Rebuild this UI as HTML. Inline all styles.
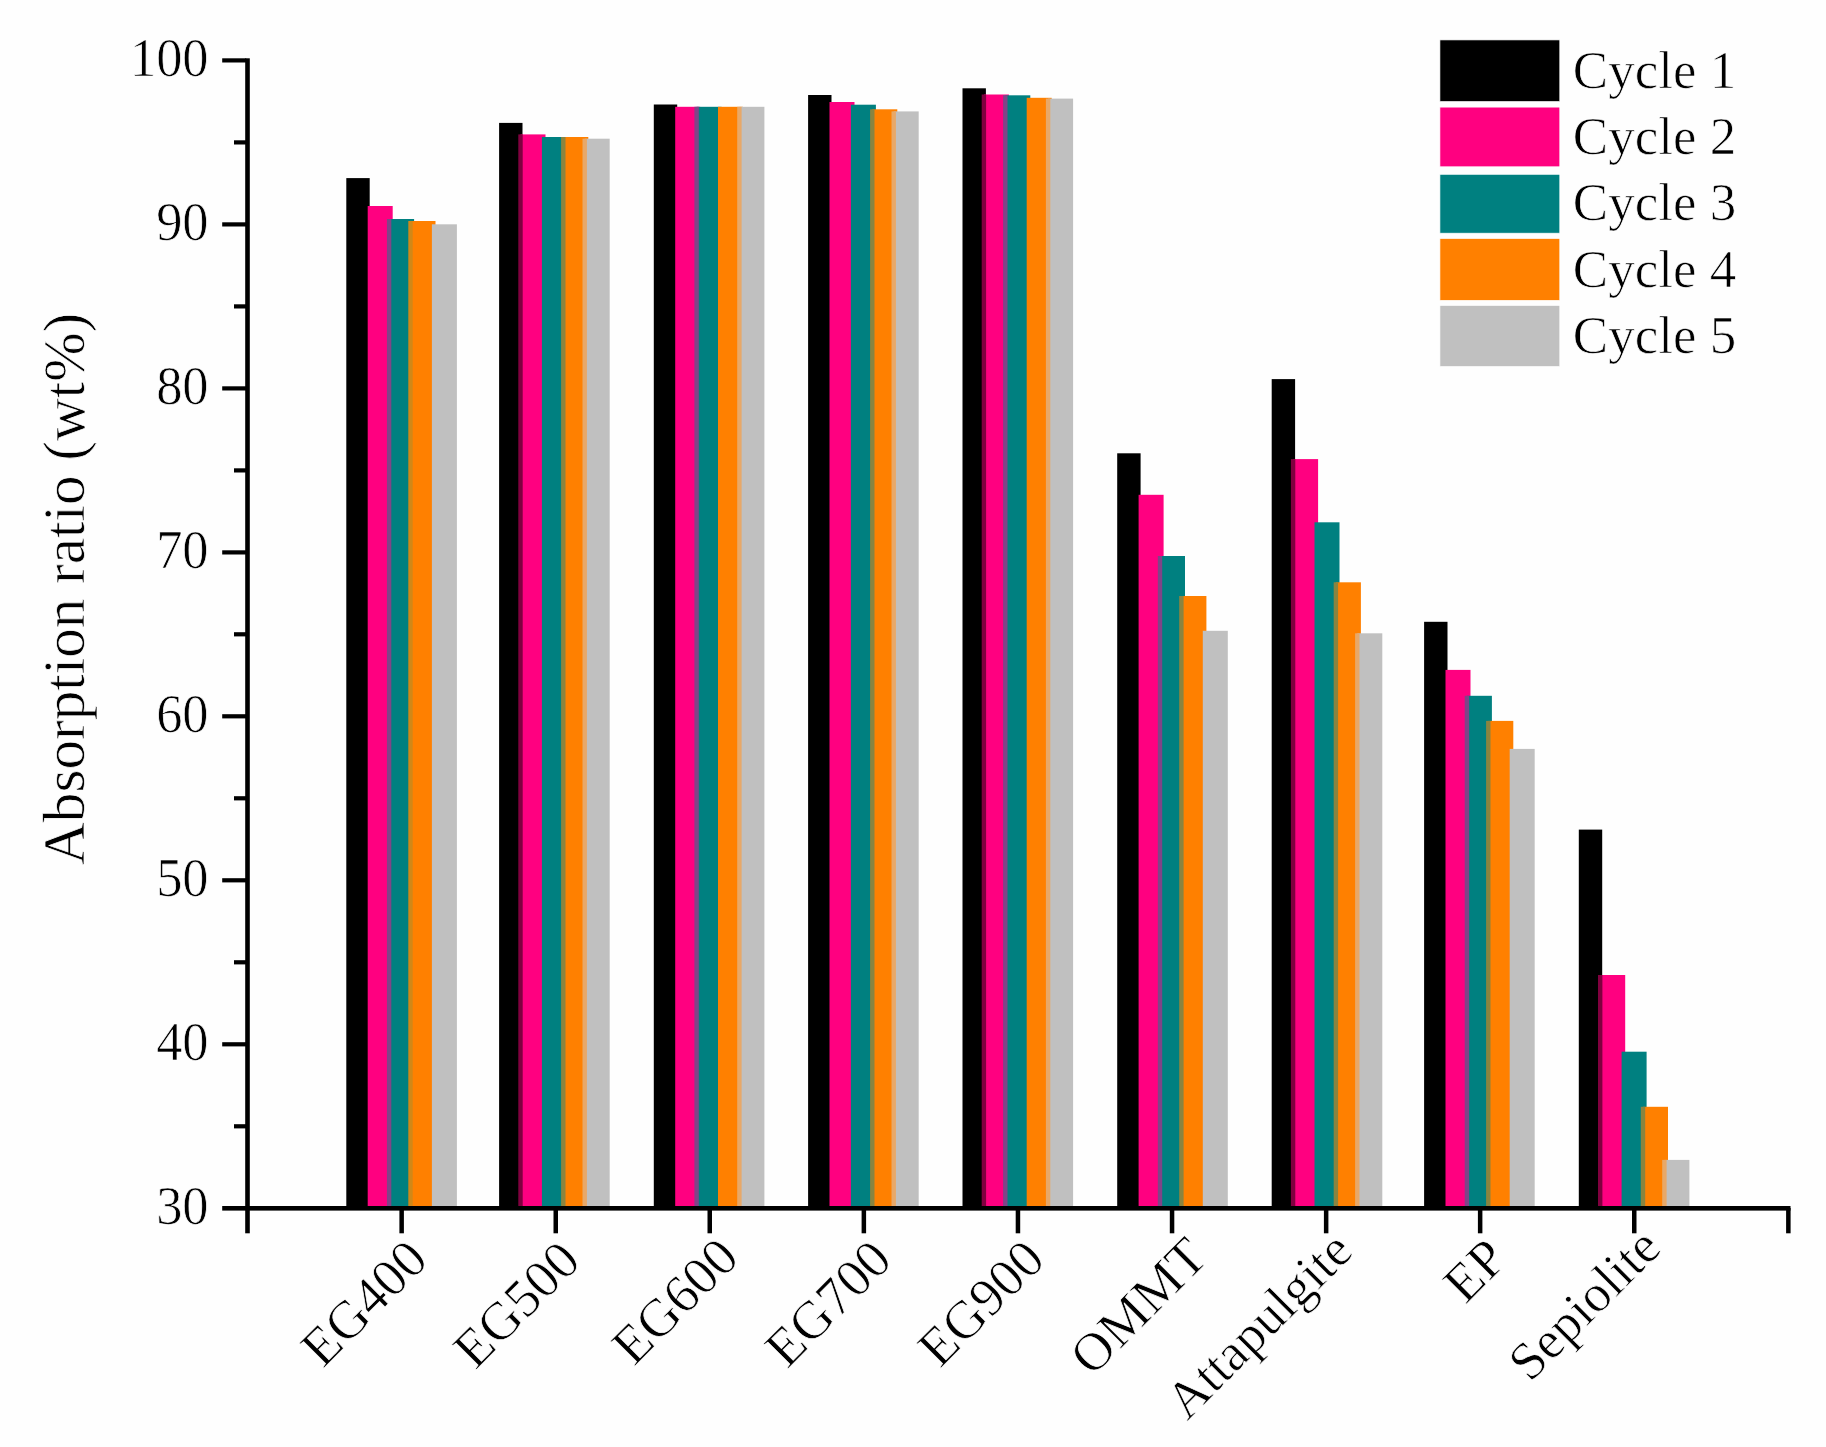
<!DOCTYPE html>
<html lang="en"><head><meta charset="utf-8"><title>Absorption ratio</title>
<style>html,body{margin:0;padding:0;background:#fefefe}svg{display:block}</style></head>
<body>
<svg width="1826" height="1447" viewBox="0 0 1826 1447">
<rect width="1826" height="1447" fill="#fefefe"/>
<g>
<rect x="346.3" y="178.1" width="23.4" height="1028.9" fill="#000000"/>
<rect x="367.7" y="206.0" width="25.0" height="1001.0" fill="#FF0080"/>
<rect x="389.1" y="219.0" width="25.0" height="988.0" fill="#008080"/>
<rect x="410.5" y="221.0" width="25.0" height="986.0" fill="#FF8000"/>
<rect x="431.9" y="224.3" width="25.0" height="982.7" fill="#C0C0C0"/>
<rect x="499.1" y="122.9" width="23.4" height="1084.1" fill="#000000"/>
<rect x="520.5" y="134.4" width="25.0" height="1072.6" fill="#FF0080"/>
<rect x="541.9" y="137.0" width="25.0" height="1070.0" fill="#008080"/>
<rect x="563.3" y="137.0" width="25.0" height="1070.0" fill="#FF8000"/>
<rect x="584.7" y="138.7" width="25.0" height="1068.3" fill="#C0C0C0"/>
<rect x="653.8" y="104.5" width="23.4" height="1102.5" fill="#000000"/>
<rect x="675.2" y="106.8" width="25.0" height="1100.2" fill="#FF0080"/>
<rect x="696.6" y="106.8" width="25.0" height="1100.2" fill="#008080"/>
<rect x="718.0" y="106.8" width="25.0" height="1100.2" fill="#FF8000"/>
<rect x="739.4" y="106.8" width="25.0" height="1100.2" fill="#C0C0C0"/>
<rect x="808.1" y="95.0" width="23.4" height="1112.0" fill="#000000"/>
<rect x="829.5" y="102.0" width="25.0" height="1105.0" fill="#FF0080"/>
<rect x="850.9" y="104.7" width="25.0" height="1102.3" fill="#008080"/>
<rect x="872.3" y="109.3" width="25.0" height="1097.7" fill="#FF8000"/>
<rect x="893.7" y="111.4" width="25.0" height="1095.6" fill="#C0C0C0"/>
<rect x="962.5" y="88.3" width="23.4" height="1118.7" fill="#000000"/>
<rect x="983.9" y="94.5" width="25.0" height="1112.5" fill="#FF0080"/>
<rect x="1005.3" y="95.3" width="25.0" height="1111.7" fill="#008080"/>
<rect x="1026.7" y="97.8" width="25.0" height="1109.2" fill="#FF8000"/>
<rect x="1048.1" y="98.6" width="25.0" height="1108.4" fill="#C0C0C0"/>
<rect x="1117.2" y="453.3" width="23.4" height="753.7" fill="#000000"/>
<rect x="1138.6" y="494.8" width="25.0" height="712.2" fill="#FF0080"/>
<rect x="1160.0" y="556.0" width="25.0" height="651.0" fill="#008080"/>
<rect x="1181.4" y="596.0" width="25.0" height="611.0" fill="#FF8000"/>
<rect x="1202.8" y="630.8" width="25.0" height="576.2" fill="#C0C0C0"/>
<rect x="1271.7" y="379.1" width="23.4" height="827.9" fill="#000000"/>
<rect x="1293.1" y="459.1" width="25.0" height="747.9" fill="#FF0080"/>
<rect x="1314.5" y="522.3" width="25.0" height="684.7" fill="#008080"/>
<rect x="1335.9" y="582.3" width="25.0" height="624.7" fill="#FF8000"/>
<rect x="1357.3" y="633.3" width="25.0" height="573.7" fill="#C0C0C0"/>
<rect x="1424.1" y="621.8" width="23.4" height="585.2" fill="#000000"/>
<rect x="1445.5" y="669.9" width="25.0" height="537.1" fill="#FF0080"/>
<rect x="1466.9" y="695.8" width="25.0" height="511.2" fill="#008080"/>
<rect x="1488.3" y="720.9" width="25.0" height="486.1" fill="#FF8000"/>
<rect x="1509.7" y="748.9" width="25.0" height="458.1" fill="#C0C0C0"/>
<rect x="1578.8" y="829.6" width="23.4" height="377.4" fill="#000000"/>
<rect x="1600.2" y="975.0" width="25.0" height="232.0" fill="#FF0080"/>
<rect x="1621.6" y="1051.7" width="25.0" height="155.3" fill="#008080"/>
<rect x="1643.0" y="1106.8" width="25.0" height="100.2" fill="#FF8000"/>
<rect x="1664.4" y="1159.9" width="25.0" height="47.1" fill="#C0C0C0"/>
<rect x="386.9" y="219.0" width="4.4" height="988.0" fill="#804488"/>
<rect x="408.3" y="221.0" width="4.4" height="986.0" fill="#d08818"/>
<rect x="518.3" y="134.4" width="4.4" height="1072.6" fill="#80003f"/>
<rect x="561.1" y="137.0" width="4.4" height="1070.0" fill="#8a8440"/>
<rect x="582.5" y="138.7" width="4.4" height="1068.3" fill="#e8a868"/>
<rect x="694.4" y="106.8" width="4.4" height="1100.2" fill="#804488"/>
<rect x="737.2" y="106.8" width="4.4" height="1100.2" fill="#e8a868"/>
<rect x="870.1" y="109.3" width="4.4" height="1097.7" fill="#8a8440"/>
<rect x="891.5" y="111.4" width="4.4" height="1095.6" fill="#e8a868"/>
<rect x="981.7" y="94.5" width="4.4" height="1112.5" fill="#80003f"/>
<rect x="1003.1" y="95.3" width="4.4" height="1111.7" fill="#804488"/>
<rect x="1045.9" y="98.6" width="4.4" height="1108.4" fill="#e8a868"/>
<rect x="1157.8" y="556.0" width="4.4" height="651.0" fill="#804488"/>
<rect x="1179.2" y="596.0" width="4.4" height="611.0" fill="#8a8440"/>
<rect x="1290.9" y="459.1" width="4.4" height="747.9" fill="#80003f"/>
<rect x="1333.7" y="582.3" width="4.4" height="624.7" fill="#8a8440"/>
<rect x="1355.1" y="633.3" width="4.4" height="573.7" fill="#e8a868"/>
<rect x="1464.7" y="695.8" width="4.4" height="511.2" fill="#804488"/>
<rect x="1486.1" y="720.9" width="4.4" height="486.1" fill="#8a8440"/>
<rect x="1598.0" y="975.0" width="4.4" height="232.0" fill="#80003f"/>
<rect x="1640.8" y="1106.8" width="4.4" height="100.2" fill="#8a8440"/>
<rect x="1662.2" y="1159.9" width="4.4" height="47.1" fill="#e8a868"/>
</g>
<g fill="#000">
<rect x="245.2" y="58.3" width="4.6" height="1175"/>
<rect x="222.2" y="1206" width="1568.3" height="4.6"/>
<rect x="222.2" y="58.3" width="24" height="4.2"/>
<rect x="234" y="140.3" width="12" height="4.2"/>
<rect x="222.2" y="222.3" width="24" height="4.2"/>
<rect x="234" y="304.3" width="12" height="4.2"/>
<rect x="222.2" y="386.3" width="24" height="4.2"/>
<rect x="234" y="468.3" width="12" height="4.2"/>
<rect x="222.2" y="550.3" width="24" height="4.2"/>
<rect x="234" y="632.2" width="12" height="4.2"/>
<rect x="222.2" y="714.2" width="24" height="4.2"/>
<rect x="234" y="796.2" width="12" height="4.2"/>
<rect x="222.2" y="878.2" width="24" height="4.2"/>
<rect x="234" y="960.2" width="12" height="4.2"/>
<rect x="222.2" y="1042.2" width="24" height="4.2"/>
<rect x="234" y="1124.2" width="12" height="4.2"/>
<rect x="399.4" y="1208" width="4.5" height="25.3"/>
<rect x="553.5" y="1208" width="4.5" height="25.3"/>
<rect x="707.5" y="1208" width="4.5" height="25.3"/>
<rect x="861.6" y="1208" width="4.5" height="25.3"/>
<rect x="1015.7" y="1208" width="4.5" height="25.3"/>
<rect x="1169.8" y="1208" width="4.5" height="25.3"/>
<rect x="1323.9" y="1208" width="4.5" height="25.3"/>
<rect x="1477.9" y="1208" width="4.5" height="25.3"/>
<rect x="1632.0" y="1208" width="4.5" height="25.3"/>
<rect x="1786.1" y="1208" width="4.5" height="25.3"/>
</g>
<g font-family="'Liberation Serif', 'Times New Roman', serif" font-size="53" fill="#000" stroke="#fefefe" stroke-width="0.7">
<text transform="translate(208.6,76.4) scale(0.99,1.03)" text-anchor="end">100</text>
<text transform="translate(208.6,240.4) scale(0.99,1.03)" text-anchor="end">90</text>
<text transform="translate(208.6,404.4) scale(0.99,1.03)" text-anchor="end">80</text>
<text transform="translate(208.6,568.4) scale(0.99,1.03)" text-anchor="end">70</text>
<text transform="translate(208.6,732.3) scale(0.99,1.03)" text-anchor="end">60</text>
<text transform="translate(208.6,896.3) scale(0.99,1.03)" text-anchor="end">50</text>
<text transform="translate(208.6,1060.3) scale(0.99,1.03)" text-anchor="end">40</text>
<text transform="translate(208.6,1224.3) scale(0.99,1.03)" text-anchor="end">30</text>
<text transform="translate(430.1,1262.0) rotate(-45)" text-anchor="end" font-size="53.6">EG400</text>
<text transform="translate(582.7,1263.4) rotate(-45)" text-anchor="end" font-size="53.6">EG500</text>
<text transform="translate(741.2,1260.0) rotate(-45)" text-anchor="end" font-size="53.6">EG600</text>
<text transform="translate(894.3,1262.3) rotate(-45)" text-anchor="end" font-size="53.6">EG700</text>
<text transform="translate(1047.2,1262.0) rotate(-45)" text-anchor="end" font-size="53.6">EG900</text>
<text transform="translate(1210.0,1259.5) rotate(-45)" text-anchor="end" font-size="53.6">OMMT</text>
<text transform="translate(1355.1,1253.5) rotate(-45)" text-anchor="end" font-size="52.8">Attapulgite</text>
<text transform="translate(1509.6,1261.0) rotate(-45)" text-anchor="end" font-size="53.6">EP</text>
<text transform="translate(1663.3,1250.0) rotate(-45)" text-anchor="end" font-size="53">Sepiolite</text>
<rect x="1439.9" y="39.9" width="119.9" height="61.7" fill="#000000"/>
<text x="1572.8" y="87.7">Cycle 1</text>
<rect x="1439.9" y="107.1" width="119.9" height="59.7" fill="#FF0080"/>
<text x="1572.8" y="154.0">Cycle 2</text>
<rect x="1439.9" y="174.3" width="119.9" height="58.9" fill="#008080"/>
<text x="1572.8" y="220.3">Cycle 3</text>
<rect x="1439.9" y="238.5" width="119.9" height="61.9" fill="#FF8000"/>
<text x="1572.8" y="286.6">Cycle 4</text>
<rect x="1439.9" y="305.4" width="119.9" height="61.2" fill="#C0C0C0"/>
<text x="1572.8" y="352.9">Cycle 5</text>
<text transform="translate(83.7,588.9) rotate(-90) scale(0.986,1)" text-anchor="middle" font-size="60">Absorption ratio (wt%)</text>
</g>
</svg>
</body></html>
